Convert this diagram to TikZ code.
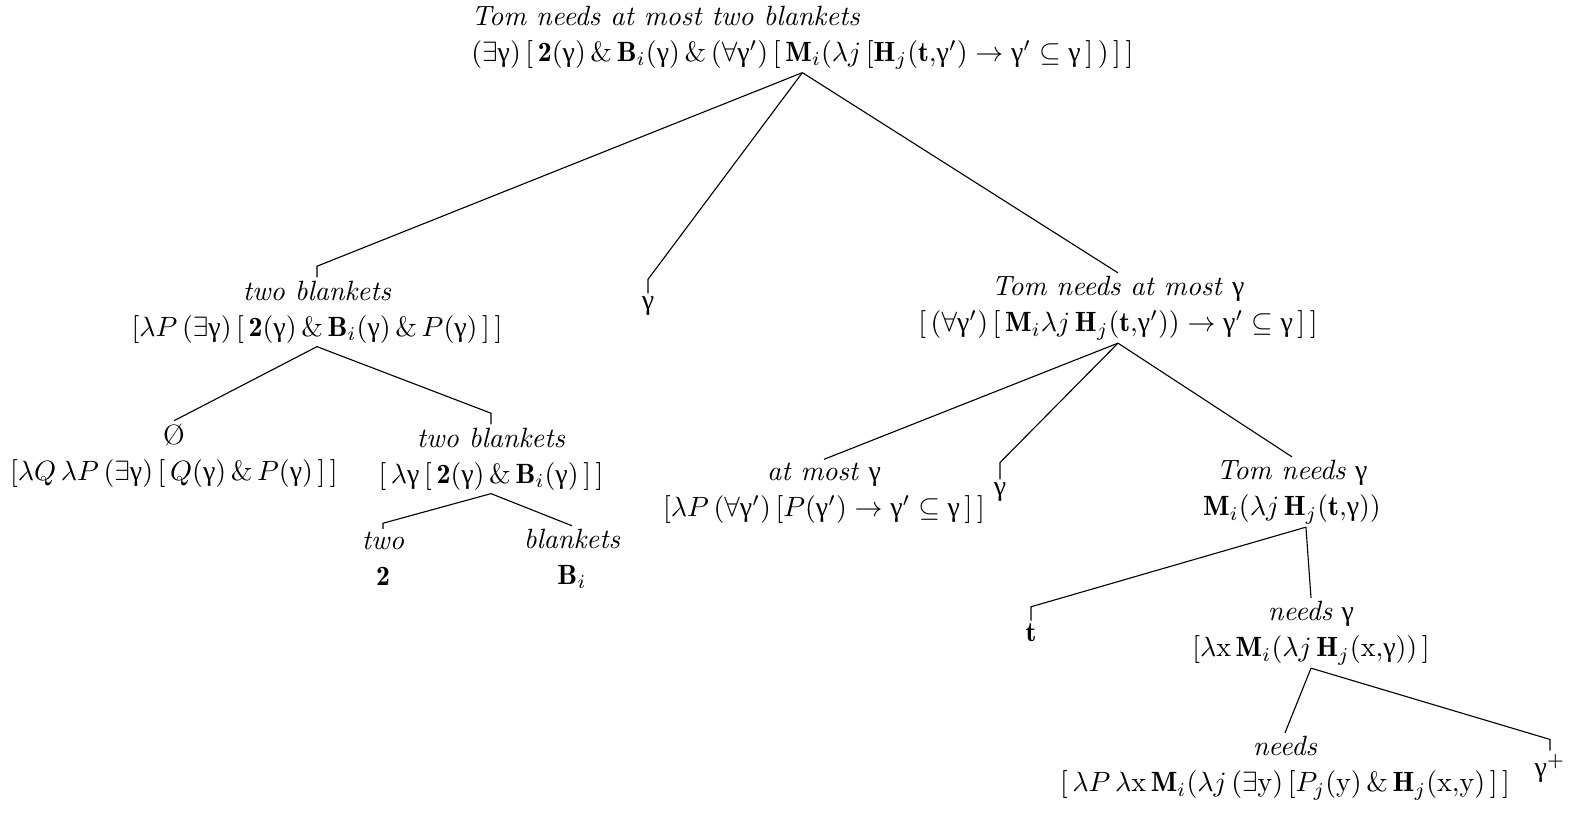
\documentclass[tikz,border=0pt]{standalone}
\usepackage{amsmath,amssymb}
\usepackage{fontspec}
\usepackage{tikz}
\newfontfamily\grk{Liberation Serif}
\newcommand{\g}{\text{\grk γ}}

\tikzset{lbl/.style={align=center, inner sep=1pt, font={\fontsize{10}{13}\selectfont}}}

\begin{document}
\begin{tikzpicture}[x=0.0126cm,y=-0.0126cm]
            \useasboundingbox (0,0) rectangle (1569,814);
            % top of the tree
            \node[lbl,align=left,anchor=west] (root) at (468,37.5) {\textit{Tom needs at most two blankets}\\
                $(\exists\g)\,[\,\mathbf{2}(\g)\,\&\,\mathbf{B}_i(\g)\,\&\,(\forall\g')\,[\,\mathbf{M}_i(\lambda j\,[\mathbf{H}_j(\mathbf{t}{,}\g')\rightarrow\g'\subseteq\g\,]\,)\,]\,]$};
            \node[lbl] (tb) at (317,312) {\textit{two blankets}\\
                $[\lambda P\,(\exists\g)\,[\,\mathbf{2}(\g)\,\&\,\mathbf{B}_i(\g)\,\&\,P(\g)\,]\,]$};
            \node[lbl] (ga) at (648,306) {$\g$};
            \node[lbl] (tnm) at (1118,308) {\textit{Tom needs at most} $\g$\\
                $[\,(\forall\g')\,[\,\mathbf{M}_i\lambda j\,\mathbf{H}_j(\mathbf{t}{,}\g'))\rightarrow\g'\subseteq\g\,]\,]$};
            % left branch
            \node[lbl] (det) at (174,456) {\O\\
                $[\lambda Q\,\lambda P\,(\exists\g)\,[\,Q(\g)\,\&\,P(\g)\,]\,]$};
            \node[lbl] (tbb) at (491,459) {\textit{two blankets}\\
                $[\,\lambda\g\,[\,\mathbf{2}(\g)\,\&\,\mathbf{B}_i(\g)\,]\,]$};
            \node[lbl] (two) at (383,559) {\textit{two}\\ $\mathbf{2}$};
            \node[lbl] (bl) at (572,559) {\textit{blankets}\\ $\mathbf{B}_i$};
            % right branch
            \node[lbl] (amg) at (824,493) {\textit{at most} $\g$\\
                $[\lambda P\,(\forall\g')\,[P(\g')\rightarrow\g'\subseteq\g\,]\,]$};
            \node[lbl] (gb) at (1000,492) {$\g$};
            \node[lbl] (tng) at (1292,492) {\textit{Tom needs} $\g$\\
                $\mathbf{M}_i(\lambda j\,\mathbf{H}_j(\mathbf{t}{,}\g))$};
            \node[lbl] (t) at (1031,633) {$\mathbf{t}$};
            \node[lbl] (ng) at (1311,633) {\textit{needs} $\g$\\
                $[\lambda\mathrm{x}\,\mathbf{M}_i(\lambda j\,\mathbf{H}_j(\mathrm{x}{,}\g))\,]$};
            \node[lbl] (nd) at (1285,768) {\textit{needs}\\
                $[\,\lambda P\,\lambda\mathrm{x}\,\mathbf{M}_i(\lambda j\,(\exists\mathrm{y})\,[P_j(\mathrm{y})\,\&\,\mathbf{H}_j(\mathrm{x}{,}\mathrm{y})\,]\,]$};
            \node[lbl] (gp) at (1550,768) {$\g^+$};
            % branches
            \draw (root.south) -- ([yshift=4pt]tb.north) -- (tb.north);
            \draw (root.south) -- ([yshift=5pt]ga.north) -- (ga.north);
            \draw (root.south) -- (tnm.north);
            \draw (tb.south) -- (det.north);
            \draw (tb.south) -- ([yshift=4pt]tbb.north) -- (tbb.north);
            \draw (tbb.south) -- ([yshift=2pt]two.north) -- (two.north);
            \draw (tbb.south) -- (bl.north);
            \draw (tnm.south) -- (amg.north);
            \draw (tnm.south) -- ([yshift=6pt]gb.north) -- (gb.north);
            \draw (tnm.south) -- (tng.north);
            \draw ([xshift=5pt]tng.south) -- ([yshift=5pt]t.north) -- (t.north);
            \draw ([xshift=5pt]tng.south) -- (ng.north);
            \draw (ng.south) -- (nd.north);
            \draw (ng.south) -- ([yshift=4pt]gp.north) -- (gp.north);
        \end{tikzpicture}
\end{document}
